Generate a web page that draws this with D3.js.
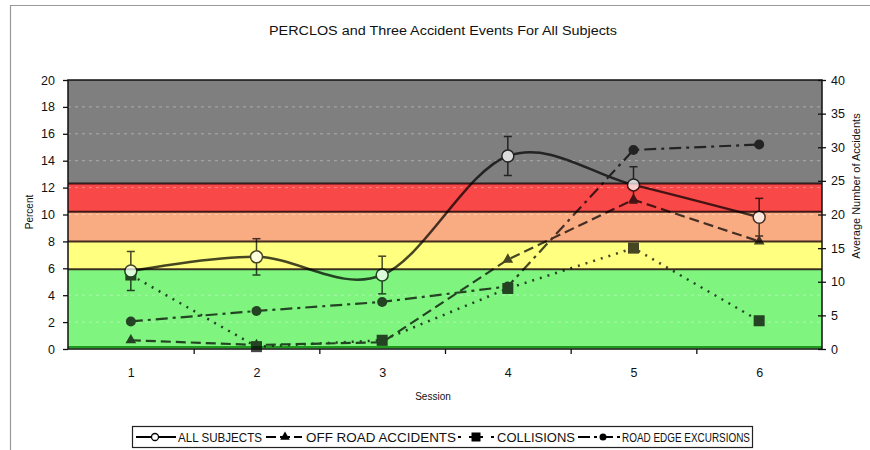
<!DOCTYPE html>
<html><head><meta charset="utf-8">
<script src="https://cdn.jsdelivr.net/npm/d3@7"></script>
<style>
html,body{margin:0;padding:0;background:#fff;}
text{font-family:"Liberation Sans",Arial,sans-serif;fill:#111;}
</style></head>
<body><svg id="c" width="870" height="450"></svg>
<script>
// ---------- data ----------
const sessions = [1, 2, 3, 4, 5, 6];
const allSubjects = [5.8, 6.85, 5.5, 14.35, 12.2, 9.8];      // Percent (left axis)
const allSubjectsErr = [1.45, 1.35, 1.4, 1.45, 1.35, 1.4];
const offRoad = [1.3, 0.6, 1.0, 13.3, 22.2, 16.0];            // right axis
const collisions = [11.0, 0.35, 1.3, 9.0, 15.0, 4.2];
const roadEdge = [4.1, 5.65, 7.0, 9.3, 29.6, 30.4];
const leftTicks = [0, 2, 4, 6, 8, 10, 12, 14, 16, 18, 20];
const rightTicks = [0, 5, 10, 15, 20, 25, 30, 35, 40];
const bandStops = [0, 5.93, 8.0, 10.2, 12.3, 20];
const bandColors = ["#7ff47f", "#ffff80", "#f9ab82", "#f94848", "#7f7f7f"];
const seriesNames = ["ALL SUBJECTS", "OFF ROAD ACCIDENTS", "COLLISIONS", "ROAD EDGE EXCURSIONS"];
const title = "PERCLOS and Three Accident Events For All Subjects";

// ---------- layout ----------
const L = 68, R = 822, T = 80, B = 349;
const svg = d3.select("#c");
const x = d3.scaleLinear().domain([0.5, 6.5]).range([L, R]);
const yL = d3.scaleLinear().domain([0, 20]).range([B, T]);
const yR = d3.scaleLinear().domain([0, 40]).range([B, T]);

// outer border
svg.append("path").attr("d", `M10.5,450 V5.5 H870`).attr("fill", "none").attr("stroke", "#999").attr("stroke-width", 1.2);

// title
svg.append("text").attr("x", 443).attr("y", 35).attr("text-anchor", "middle")
  .style("font-size", "12.5px").attr("textLength", 348).attr("lengthAdjust", "spacingAndGlyphs").text(title);

// bands
const bands = svg.append("g");
for (let i = 0; i < bandColors.length; i++) {
  bands.append("rect").attr("x", L).attr("width", R - L)
    .attr("y", yL(bandStops[i + 1])).attr("height", yL(bandStops[i]) - yL(bandStops[i + 1]))
    .attr("fill", bandColors[i]);
}
// gridlines
svg.append("g").selectAll("line").data(leftTicks.slice(1, -1)).join("line")
  .attr("x1", L).attr("x2", R).attr("y1", d => yL(d)).attr("y2", d => yL(d))
  .attr("stroke", "rgba(255,255,255,0.35)").attr("stroke-width", 1).attr("stroke-dasharray", "3,4");
// band boundaries
svg.append("g").selectAll("line").data(bandStops.slice(1, -1)).join("line")
  .attr("x1", L).attr("x2", R).attr("y1", d => yL(d)).attr("y2", d => yL(d))
  .attr("stroke", "rgba(20,0,0,0.8)").attr("stroke-width", 2);
svg.append("line").attr("x1", L).attr("x2", R).attr("y1", B - 2).attr("y2", B - 2)
  .attr("stroke", "#1f9a1f").attr("stroke-width", 2);

// ---------- series ----------
const g = svg.append("g").attr("opacity", 0.72);
const lineR = d3.line().x((d, i) => x(sessions[i])).y(d => yR(d));
const lineSmooth = d3.line().x((d, i) => x(sessions[i])).y(d => yL(d)).curve(d3.curveCatmullRom.alpha(0));

g.append("path").datum(collisions).attr("d", lineR).attr("fill", "none")
  .attr("stroke", "#000").attr("stroke-width", 2.5).attr("stroke-dasharray", "2,6");
g.append("path").datum(roadEdge).attr("d", lineR).attr("fill", "none")
  .attr("stroke", "#000").attr("stroke-width", 2.2).attr("stroke-dasharray", "12,5,3,5");
g.append("path").datum(offRoad).attr("d", lineR).attr("fill", "none")
  .attr("stroke", "#000").attr("stroke-width", 2.2).attr("stroke-dasharray", "10,5");
g.append("path").datum(allSubjects).attr("d", lineSmooth).attr("fill", "none")
  .attr("stroke", "#000").attr("stroke-width", 2.5);

// markers
const tri = d3.symbol().type(d3.symbolTriangle).size(50);
g.selectAll(".tri").data(offRoad).join("path")
  .attr("transform", (d, i) => `translate(${x(sessions[i])},${yR(d)})`).attr("d", tri).attr("fill", "#000");
g.selectAll(".sq").data(collisions).join("rect")
  .attr("x", (d, i) => x(sessions[i]) - 5.5).attr("y", d => yR(d) - 5.5)
  .attr("width", 11).attr("height", 11).attr("fill", "#000");
g.selectAll(".dot").data(roadEdge).join("circle")
  .attr("cx", (d, i) => x(sessions[i])).attr("cy", d => yR(d)).attr("r", 5).attr("fill", "#000");
// error bars
const eb = g.append("g").attr("stroke", "#000").attr("stroke-width", 1.5);
allSubjects.forEach((v, i) => {
  const cx = x(sessions[i]), y1 = yL(v + allSubjectsErr[i]), y2 = yL(v - allSubjectsErr[i]);
  eb.append("line").attr("x1", cx).attr("x2", cx).attr("y1", y1).attr("y2", y2);
  eb.append("line").attr("x1", cx - 4).attr("x2", cx + 4).attr("y1", y1).attr("y2", y1);
  eb.append("line").attr("x1", cx - 4).attr("x2", cx + 4).attr("y1", y2).attr("y2", y2);
});
g.selectAll(".oc").data(allSubjects).join("circle")
  .attr("cx", (d, i) => x(sessions[i])).attr("cy", d => yL(d)).attr("r", 6)
  .attr("fill", "#fff").attr("stroke", "#000").attr("stroke-width", 1.5);

// plot frame
svg.append("rect").attr("x", L).attr("y", T).attr("width", R - L).attr("height", B - T)
  .attr("fill", "none").attr("stroke", "#111").attr("stroke-width", 1.5);

// ---------- axes ----------
const axFont = g => g.selectAll("text").style("font-size", "12.5px").attr("fill", "#222");
const ax1 = svg.append("g").attr("transform", `translate(${L},0)`)
  .call(d3.axisLeft(yL).tickValues(leftTicks).tickSize(5).tickPadding(8).tickFormat(d3.format("d")));
ax1.call(axFont); ax1.select(".domain").remove();
const ax2 = svg.append("g").attr("transform", `translate(${R},0)`)
  .call(d3.axisRight(yR).tickValues(rightTicks).tickSize(4).tickPadding(5).tickFormat(d3.format("d")));
ax2.call(axFont); ax2.select(".domain").remove();
ax2.selectAll(".tick line").attr("x1", -4);
const ax3 = svg.append("g").attr("transform", `translate(0,${B})`)
  .call(d3.axisBottom(x).tickValues(sessions).tickSize(0).tickPadding(19).tickFormat(d3.format("d")));
ax3.call(axFont); ax3.select(".domain").remove();
const ax4 = svg.append("g").attr("transform", `translate(0,${B})`)
  .call(d3.axisBottom(x).tickValues([1.5, 2.5, 3.5, 4.5, 5.5]).tickSize(5).tickFormat(""));
ax4.select(".domain").remove();
svg.selectAll(".tick line").attr("stroke", "#111").attr("stroke-width", 1.3);

// axis titles
svg.append("text").attr("transform", "translate(33,212) rotate(-90)").attr("text-anchor", "middle")
  .style("font-size", "10px").text("Percent");
svg.append("text").attr("transform", "translate(860,186) rotate(-90)").attr("text-anchor", "middle")
  .style("font-size", "11px").text("Average Number of Accidents");
svg.append("text").attr("x", 433).attr("y", 400).attr("text-anchor", "middle")
  .style("font-size", "10px").text("Session");

// ---------- legend ----------
const lg = svg.append("g");
lg.append("rect").attr("x", 132.5).attr("y", 426.5).attr("width", 620).attr("height", 21)
  .attr("fill", "#fff").attr("stroke", "#222").attr("stroke-width", 1.2);
const ly = 437;
const items = [
  { x0: 136, x1: 176, m: 155, dash: null, tx: 178, tw: 84 },
  { x0: 266, x1: 302, m: 285, dash: "10,4", tx: 306, tw: 150 },
  { x0: 458, x1: 494, m: 476, dash: "3,8", tx: 497, tw: 78 },
  { x0: 578, x1: 620, m: 603, dash: "12,4,3,4", tx: 622, tw: 128 }
];
items.forEach((it, i) => {
  lg.append("line").attr("x1", it.x0).attr("x2", it.x1).attr("y1", ly).attr("y2", ly)
    .attr("stroke", "#000").attr("stroke-width", 2).attr("stroke-dasharray", it.dash);
  if (i === 0) lg.append("circle").attr("cx", it.m).attr("cy", ly).attr("r", 3.5).attr("fill", "#fff").attr("stroke", "#000").attr("stroke-width", 1.3);
  if (i === 1) lg.append("path").attr("transform", `translate(${it.m},${ly})`).attr("d", d3.symbol().type(d3.symbolTriangle).size(40)).attr("fill", "#000");
  if (i === 2) lg.append("rect").attr("x", it.m - 4.5).attr("y", ly - 4.5).attr("width", 9).attr("height", 9).attr("fill", "#000");
  if (i === 3) lg.append("circle").attr("cx", it.m).attr("cy", ly).attr("r", 3.5).attr("fill", "#000");
  lg.append("text").attr("x", it.tx).attr("y", ly + 4.5)
    .style("font-family", "'Liberation Sans Narrow','Arial Narrow','Liberation Sans',sans-serif")
    .style("font-size", "13px")
    .attr("textLength", it.tw).attr("lengthAdjust", "spacingAndGlyphs").text(seriesNames[i]);
});
</script></body></html>
